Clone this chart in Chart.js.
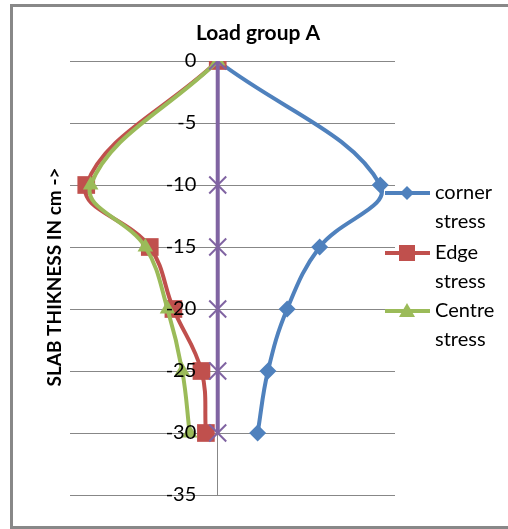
<!DOCTYPE html>
<html>
<head>
<meta charset="utf-8">
<script src="https://cdn.jsdelivr.net/npm/chart.js@4.4.1/dist/chart.umd.min.js"></script>
<style>
  html, body { margin: 0; padding: 0; background: #fff; overflow: hidden; }
  #wrap { position: relative; width: 508px; height: 529px; }
</style>
</head>
<body>
<div id="wrap"><canvas id="c" width="508" height="529"></canvas></div>
<script>
// ---- data ----
const chartTitle = 'Load group A';
const yAxisTitle = 'SLAB THIKNESS IN cm ->';
const depth = [0, -10, -15, -20, -25, -30];          // slab thickness (y)
const cornerStress = [0, 11.0, 6.9, 4.7, 3.4, 2.7];
const edgeStress   = [0, -8.9, -4.6, -3.0, -1.1, -0.8];
const centreStress = [0, -8.6, -4.9, -3.4, -2.4, -1.9];
const referenceLine = [0, 0, 0, 0, 0, 0];
const seriesNames = ['corner stress', 'Edge stress', 'Centre stress', 'Series4'];
const legendLines = [['corner', 'stress'], ['Edge', 'stress'], ['Centre', 'stress']];
const yTickValues = [0, -5, -10, -15, -20, -25, -30, -35];

const toPts = xs => xs.map((x, i) => ({ x: x, y: depth[i] }));

const COLORS = ['#4F81BD', '#C0504D', '#9BBB59', '#8064A2'];
const FONT = 'Lato, "Open Sans", sans-serif';

function drawMarker(ctx, style, cx, cy, r, color) {
  ctx.save();
  ctx.fillStyle = color; ctx.strokeStyle = color;
  ctx.beginPath();
  if (style === 'rectRot') {
    ctx.moveTo(cx, cy - r); ctx.lineTo(cx + r, cy); ctx.lineTo(cx, cy + r); ctx.lineTo(cx - r, cy);
    ctx.closePath(); ctx.fill();
  } else if (style === 'rect') {
    ctx.rect(cx - r, cy - r, 2 * r, 2 * r); ctx.fill();
  } else if (style === 'triangle') {
    ctx.moveTo(cx, cy - r); ctx.lineTo(cx + r, cy + r * 0.75); ctx.lineTo(cx - r, cy + r * 0.75);
    ctx.closePath(); ctx.fill();
  }
  ctx.restore();
}

const decorPlugin = {
  id: 'decor',
  beforeDraw(chart) {
    const ctx = chart.ctx;
    ctx.save();
    ctx.fillStyle = '#fff';
    ctx.fillRect(0, 0, chart.width, chart.height);
    ctx.strokeStyle = '#888888';
    ctx.lineWidth = 3;
    ctx.strokeRect(11.5, 5.5, 700, 522);
    ctx.restore();
  },
  afterDraw(chart) {
    const ctx = chart.ctx;
    ctx.save();
    // title
    ctx.fillStyle = '#000';
    ctx.font = 'bold 21px ' + FONT;
    ctx.textAlign = 'center';
    ctx.textBaseline = 'middle';
    ctx.fillText(chartTitle, 258, 33);
    // y axis title
    ctx.save();
    ctx.translate(55, 277);
    ctx.rotate(-Math.PI / 2);
    ctx.font = 'bold 19px ' + FONT;
    ctx.fillText(yAxisTitle, 0, 0);
    ctx.restore();
    // legend
    const ys = [193, 253, 311];
    const styles = ['rectRot', 'rect', 'triangle'];
    const sizes = [7, 8, 8];
    ctx.font = '20px ' + FONT;
    ctx.textAlign = 'left';
    for (let i = 0; i < 3; i++) {
      const y = ys[i];
      ctx.strokeStyle = COLORS[i];
      ctx.lineWidth = 4;
      ctx.beginPath(); ctx.moveTo(385, y); ctx.lineTo(430, y); ctx.stroke();
      drawMarker(ctx, styles[i], 407, y, sizes[i], COLORS[i]);
      ctx.fillStyle = '#000';
      legendLines[i].forEach((t, k) => ctx.fillText(t, 435, y + k * 29));
    }
    ctx.restore();
  }
};

const common = { showLine: true, borderWidth: 4, tension: 0.4, yAxisID: 'y', xAxisID: 'x' };

new Chart(document.getElementById('c'), {
  type: 'scatter',
  data: {
    datasets: [
      Object.assign({}, common, { label: seriesNames[0], data: toPts(cornerStress), borderColor: COLORS[0], backgroundColor: COLORS[0],
        pointStyle: 'rectRot', pointRadius: 8.5, pointBorderWidth: 0, order: 4 }),
      Object.assign({}, common, { label: seriesNames[1], data: toPts(edgeStress), borderColor: COLORS[1], backgroundColor: COLORS[1],
        pointStyle: 'rect', pointRadius: 12.5, pointBorderWidth: 0, order: 3 }),
      Object.assign({}, common, { label: seriesNames[2], data: toPts(centreStress), borderColor: COLORS[2], backgroundColor: COLORS[2],
        pointStyle: 'triangle', pointRadius: 9, pointBorderWidth: 0, order: 2 }),
      Object.assign({}, common, { label: seriesNames[3], data: toPts(referenceLine), borderColor: COLORS[3], backgroundColor: COLORS[3],
        pointStyle: 'crossRot', pointRadius: 12, pointBorderWidth: 2, tension: 0, order: 1 })
    ]
  },
  options: {
    responsive: false,
    animation: false,
    devicePixelRatio: 1,
    layout: { padding: { left: 70, right: 113, top: 61, bottom: 34 } },
    plugins: { legend: { display: false }, title: { display: false }, tooltip: { enabled: false } },
    scales: {
      x: {
        type: 'linear', min: -10, max: 12, display: true,
        afterBuildTicks: (s) => { s.ticks = [{ value: 0 }]; },
        ticks: { display: false },
        grid: { color: '#878787', lineWidth: 1, drawTicks: false },
        border: { display: false }
      },
      y: {
        type: 'linear', min: -35, max: 0, position: { x: -1.45 },
        afterBuildTicks: (s) => { s.ticks = yTickValues.map(v => ({ value: v })); },
        ticks: { color: '#000', font: { family: FONT, size: 20 }, z: 1 },
        grid: { color: '#878787', lineWidth: 1, drawTicks: false },
        border: { display: false }
      }
    }
  },
  plugins: [decorPlugin]
});
</script>
</body>
</html>
